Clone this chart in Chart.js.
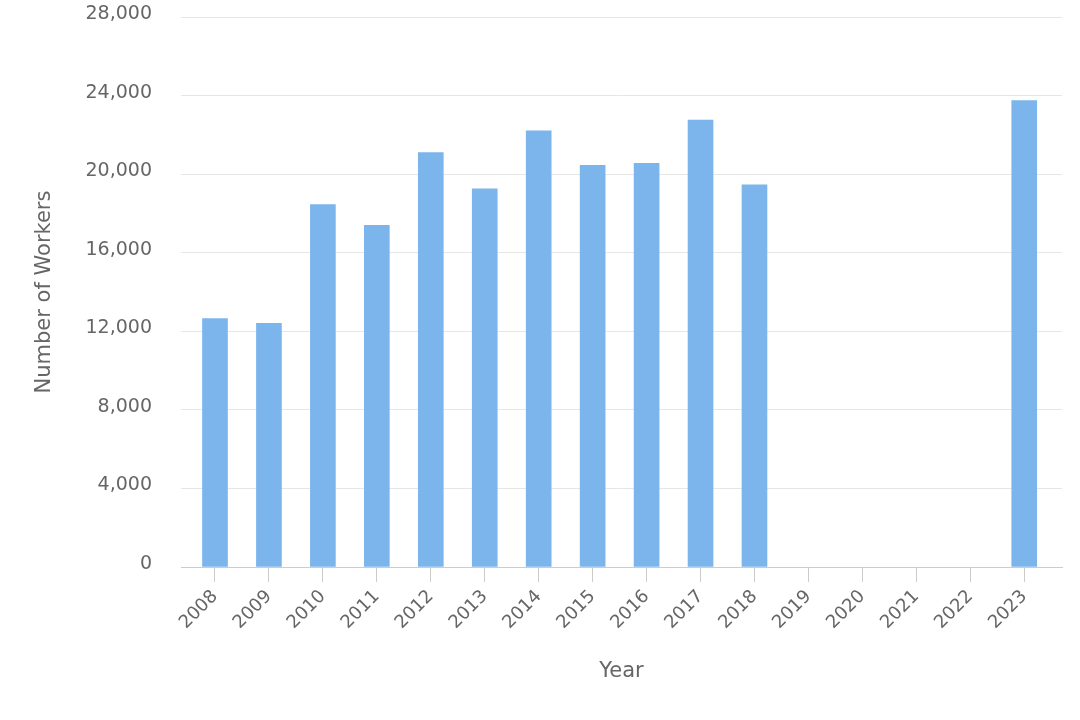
<!DOCTYPE html>
<html>
<head>
<meta charset="utf-8">
<title>Number of Workers by Year</title>
<script src="https://cdn.jsdelivr.net/npm/chart.js@4"></script>
<style>
  html, body { margin: 0; padding: 0; background: #ffffff; }
  #wrap { width: 1080px; height: 720px; }
</style>
</head>
<body>
<div id="wrap"><canvas id="chart" width="1080" height="720"></canvas></div>
<script>
// values
const years   = ['2008', '2009', '2010', '2011', '2012', '2013', '2014', '2015',
                 '2016', '2017', '2018', '2019', '2020', '2021', '2022', '2023'];
const workers = [12650, 12400, 18450, 17400, 21100, 19250, 22200, 20450,
                 20550, 22750, 19450, 0, 0, 0, 0, 23750];
const yTicks  = [0, 4000, 8000, 12000, 16000, 20000, 24000, 28000];

const FONT = 'DejaVu Sans';
const TEXT = '#666666';
const BAR  = '#7cb5ec';

const points = years.map((y, i) => ({ x: i, y: workers[i] }));

new Chart(document.getElementById('chart'), {
    type: 'bar',
    data: {
        datasets: [{
            label: 'Number of Workers',
            data: points,
            // empty years leave no sliver on the axis
            backgroundColor: (ctx) => (ctx.raw && ctx.raw.y === 0) ? 'rgba(0,0,0,0)' : BAR,
            borderWidth: 0,
            barThickness: 25,
        }],
    },
    options: {
        responsive: false,
        animation: false,
        layout: { padding: { top: 17, right: 18, bottom: 0, left: 0 } },
        plugins: {
            legend:  { display: false },
            tooltip: { enabled: false },
        },
        scales: {
            x: {
                type: 'linear',
                offset: false,
                // a little extra room either side, like the original plot
                min: -0.63,
                max: years.length - 1 + 0.70,
                afterBuildTicks: (scale) => {
                    scale.ticks = years.map((_, i) => ({ value: i }));
                },
                afterFit: (scale) => { scale.height = 153; },
                grid: {
                    offset: false,
                    drawOnChartArea: false,
                    drawTicks: true,
                    tickLength: 15,
                    color: '#cccccc',
                },
                border: { display: true, color: '#cccccc', width: 1 },
                ticks: {
                    autoSkip: false,
                    maxRotation: 45,
                    minRotation: 45,
                    padding: 4,
                    color: TEXT,
                    font: { family: FONT, size: 18 },
                    callback: (v) => years[v] ?? '',
                },
                title: {
                    display: true,
                    text: 'Year',
                    color: TEXT,
                    font: { family: FONT, size: 21 },
                    padding: { top: 0, bottom: 36 },
                },
            },
            y: {
                min: 0,
                max: 28000,
                afterBuildTicks: (scale) => {
                    scale.ticks = yTicks.map(v => ({ value: v }));
                },
                afterFit: (scale) => { scale.width = 181; },
                grid: {
                    color: '#e6e6e6',
                    drawTicks: true,
                    tickLength: 25,
                    tickColor: 'rgba(0,0,0,0)',
                },
                border: { display: false },
                ticks: {
                    padding: 4,
                    labelOffset: -3,
                    color: TEXT,
                    font: { family: FONT, size: 19 },
                    callback: (v) => v.toLocaleString('en-US'),
                },
                title: {
                    display: true,
                    text: 'Number of Workers',
                    color: TEXT,
                    font: { family: FONT, size: 21 },
                    padding: { top: 32, bottom: 0 },
                },
            },
        },
    },
});
</script>
</body>
</html>
